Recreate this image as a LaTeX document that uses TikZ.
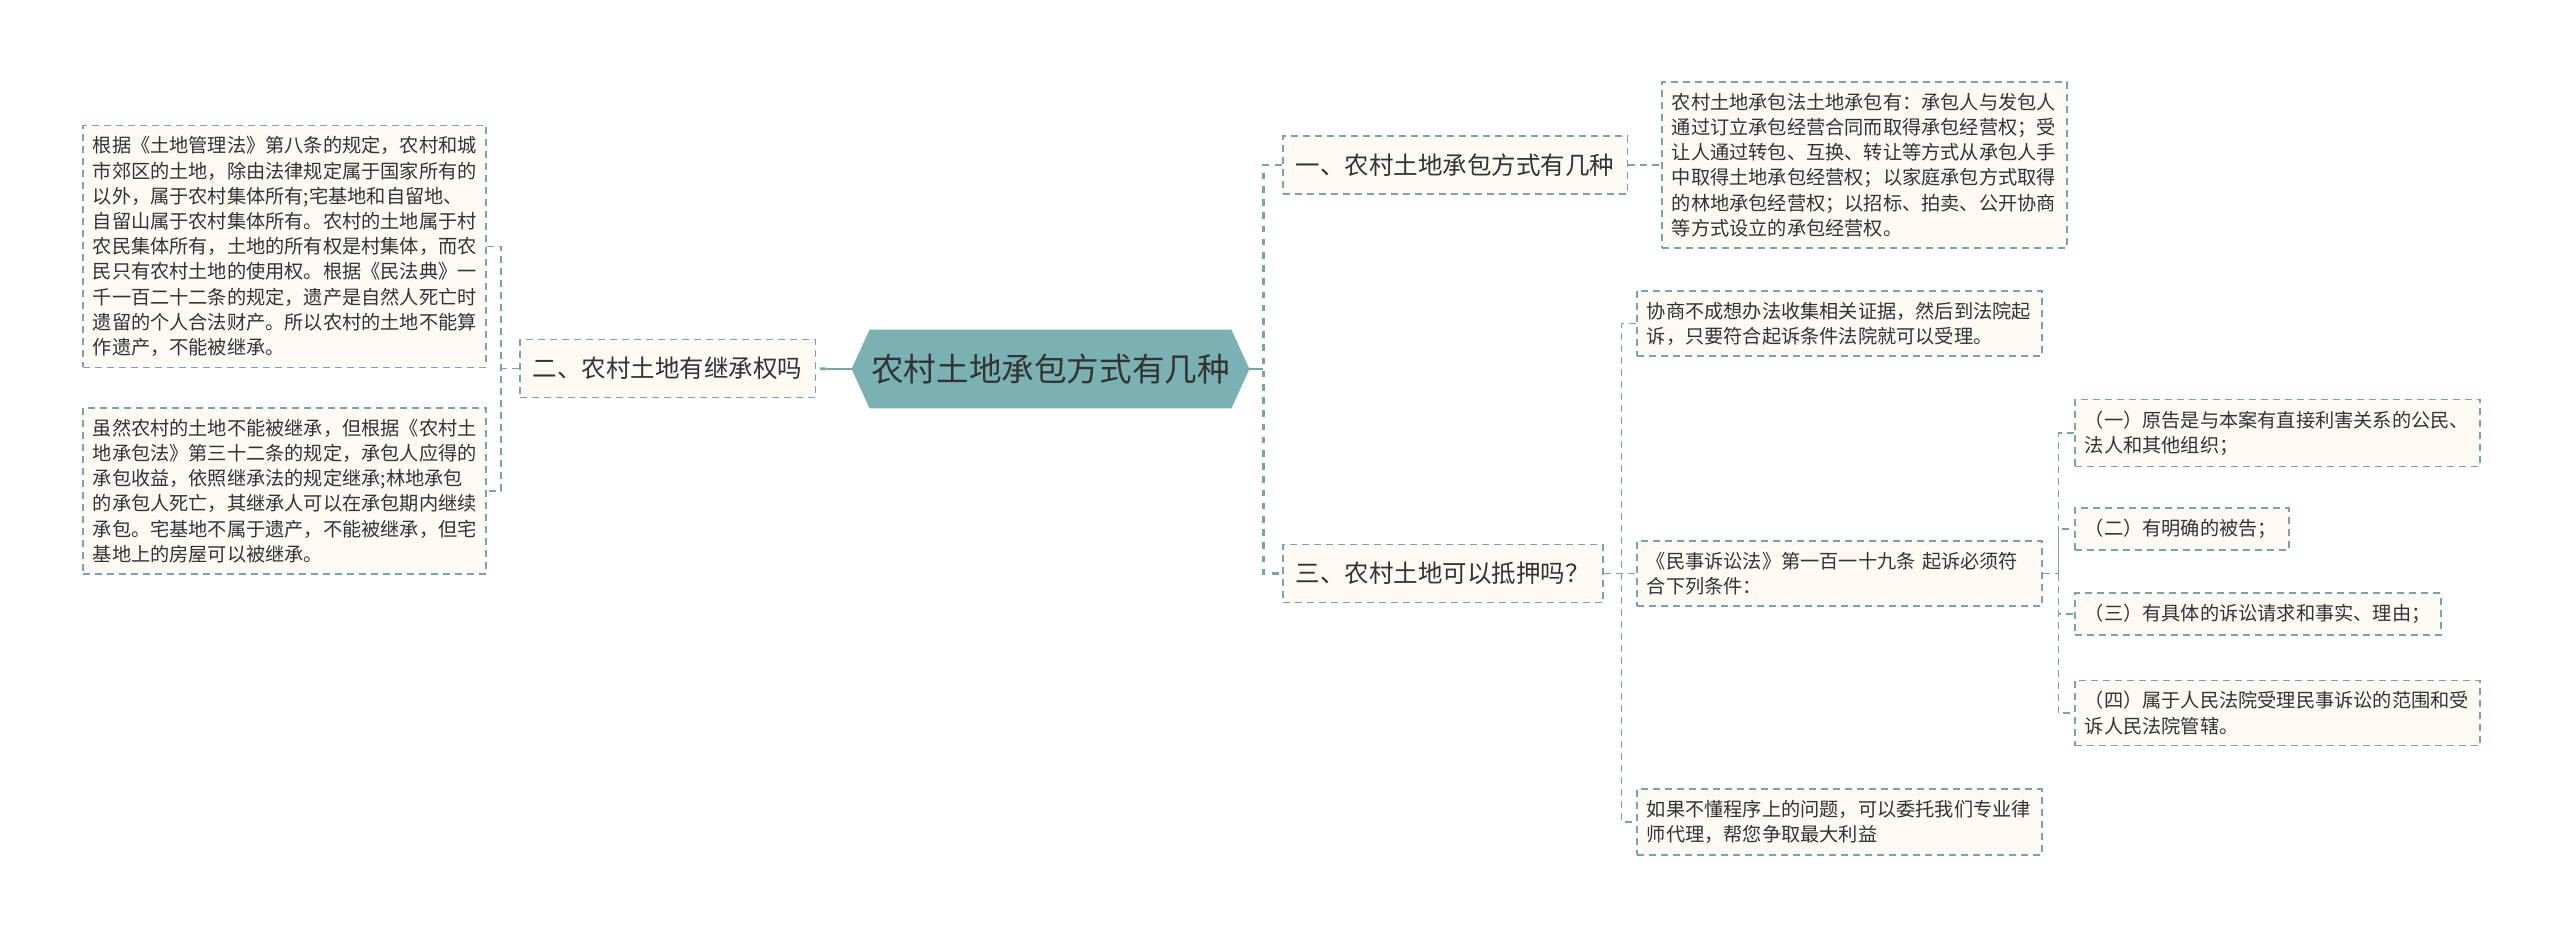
\documentclass[tikz,border=0pt]{standalone}
\usepackage{fontspec}
\newfontfamily\cjk{Noto Sans CJK SC}
\usetikzlibrary{positioning, calc, backgrounds}

\definecolor{mmline}{RGB}{120,166,168}
\definecolor{mmfill}{RGB}{252,250,242}
\definecolor{rootfill}{RGB}{122,177,179}
\definecolor{mmtext}{RGB}{51,51,51}

\begin{document}
\begin{tikzpicture}[
	x=0.5pt, y=-0.5pt,
	% --- Styles ---
	rootnode/.style={
		rectangle, minimum width=198.5pt, minimum height=39pt, inner sep=0pt,
		font=\cjk\fontsize{16.3pt}{19pt}\selectfont, text=mmtext
	},
	branch/.style={
		rectangle, draw=mmline, dash pattern=on 3.5pt off 2.5pt, line width=0.8pt, fill=mmfill,
		inner xsep=6.5pt, minimum height=29pt, anchor=west,
		font=\cjk\fontsize{12.25pt}{15pt}\selectfont, text=mmtext
	},
	leaf/.style={
		rectangle, draw=mmline, dash pattern=on 3.5pt off 2.5pt, line width=0.8pt, fill=mmfill,
		inner xsep=5pt, inner ysep=5.5pt, text width=#1, align=left, anchor=west,
		font=\cjk\fontsize{9.6pt}{12.6pt}\selectfont, text=mmtext
	},
	leaf/.default=192.5pt,
	link/.style={
		draw=mmline, dash pattern=on 3.5pt off 2.5pt, line width=0.8pt
	},
	trunk/.style={
		draw=mmline, dash pattern=on 3.3pt off 3.3pt, line width=1.4pt
	},
	stub/.style={
		draw=mmline, line width=1.4pt
	}
	]
	
	% --- 1. Root (hexagon drawn on background) ---
	\node [rootnode] (root) at (1050.5,369) {农村土地承包方式有几种};
	
	% --- 2. Left branch ---
	\node [branch] (b2) at (519,368.5) {二、农村土地有继承权吗};
	
	\node [leaf=191.5pt] (l1) at (82,246.5) {根据《土地管理法》第八条的规定，农村和城\\市郊区的土地，除由法律规定属于国家所有的\\以外，属于农村集体所有;宅基地和自留地、\\自留山属于农村集体所有。农村的土地属于村\\农民集体所有，土地的所有权是村集体，而农\\民只有农村土地的使用权。根据《民法典》一\\千一百二十二条的规定，遗产是自然人死亡时\\遗留的个人合法财产。所以农村的土地不能算\\作遗产，不能被继承。};
	\node [leaf=191.5pt] (l2) at (82,491) {虽然农村的土地不能被继承，但根据《农村土\\地承包法》第三十二条的规定，承包人应得的\\承包收益，依照继承法的规定继承;林地承包\\的承包人死亡，其继承人可以在承包期内继续\\承包。宅基地不属于遗产，不能被继承，但宅\\基地上的房屋可以被继承。};
	
	% --- 3. Right branches ---
	\node [branch] (b1) at (1282,165) {一、农村土地承包方式有几种};
	\node [branch] (b3) at (1282,573.5) {三、农村土地可以抵押吗？};
	
	\node [leaf, right=16.5pt of b1] (r1a) {农村土地承包法土地承包有：承包人与发包人\\通过订立承包经营合同而取得承包经营权；受\\让人通过转包、互换、转让等方式从承包人手\\中取得土地承包经营权；以家庭承包方式取得\\的林地承包经营权；以招标、拍卖、公开协商\\等方式设立的承包经营权。};
	
	\node [leaf] (r3a) at (1636,323.5) {协商不成想办法收集相关证据，然后到法院起\\诉，只要符合起诉条件法院就可以受理。};
	\node [leaf] (r3b) at (1636,573.5) {《民事诉讼法》第一百一十九条 起诉必须符\\合下列条件：};
	\node [leaf] (r3c) at (1636,822) {如果不懂程序上的问题，可以委托我们专业律\\师代理，帮您争取最大利益};
	
	% Conditions
	\node [leaf] (s1) at (2074,433) {（一）原告是与本案有直接利害关系的公民、\\法人和其他组织；};
	\node [leaf=97pt] (s2) at (2074,529) {（二）有明确的被告；};
	\node [leaf=173pt] (s3) at (2074,614) {（三）有具体的诉讼请求和事实、理由；};
	\node [leaf] (s4) at (2074,713) {（四）属于人民法院受理民事诉讼的范围和受\\诉人民法院管辖。};
	
	% --- 4. Background and hexagon ---
	\begin{scope}[on background layer]
		\fill [white] (0,0) rectangle (2560,939);
		\fill [rootfill] (root.west) -- ([xshift=9pt]root.north west) -- ([xshift=-9pt]root.north east)
			-- (root.east) -- ([xshift=-9pt]root.south east) -- ([xshift=9pt]root.south west) -- cycle;
	\end{scope}
	
	% --- 5. Connections ---
	% Root to left
	\coordinate (lj) at ($(root.west)+(-25,0)$);
	\draw [stub] (root.west) -- (lj);
	\draw [trunk] (lj) -- (b2.east);
	
	% Root to right
	\coordinate (rj) at ($(root.east)+(14,0)$);
	\draw [stub] (root.east) -- (rj);
	\draw [trunk] (b1.west) -| (rj) |- (b3.west);
	
	% Left leaves
	\coordinate (lk) at ($(b2.west)+(-18,0)$);
	\draw [link] (b2.west) -- (lk);
	\draw [link] (l1.east) -| (lk) |- (l2.east);
	
	% First right branch
	\draw [link] (b1.east) -- (r1a.west);
	
	% Third right branch
	\coordinate (tk) at ($(b3.east)+(18,0)$);
	\draw [link] (b3.east) -- (r3b.west);
	\draw [link] (r3a.west) -| (tk) |- (r3c.west);
	
	% Conditions bracket
	\coordinate (sk) at ($(r3b.east)+(16,0)$);
	\draw [link] (r3b.east) -- (sk);
	\draw [link] (s1.west) -| (sk) |- (s4.west);
	\draw [link] (sk) |- (s2.west);
	\draw [link] (sk) |- (s3.west);
	
\end{tikzpicture}
\end{document}
